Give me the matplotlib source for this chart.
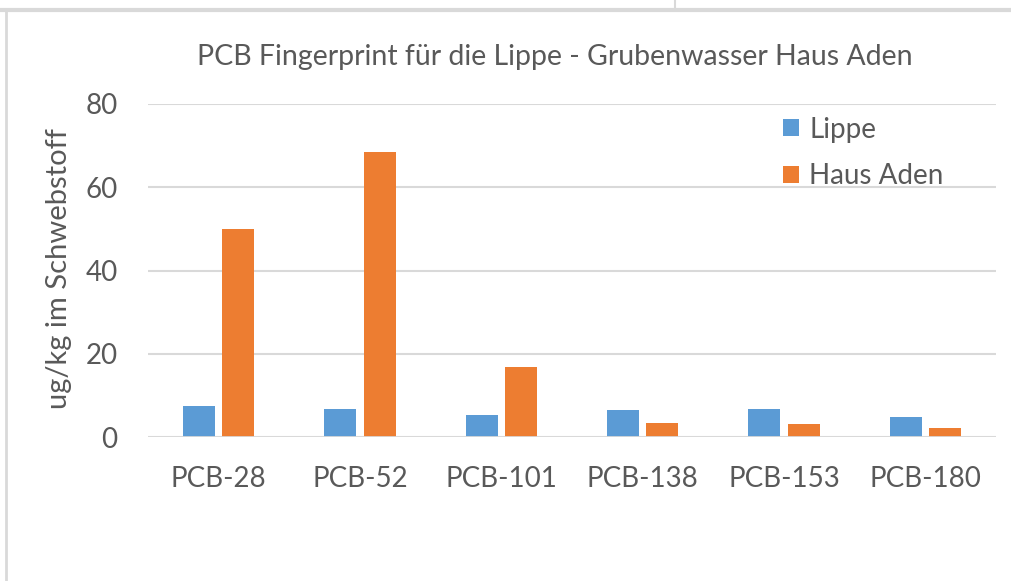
import numpy as np
import matplotlib.pyplot as plt
from matplotlib.lines import Line2D

categories = ["PCB-28", "PCB-52", "PCB-101", "PCB-138", "PCB-153", "PCB-180"]
lippe = [7.4, 6.7, 5.3, 6.5, 6.8, 4.7]
haus_aden = [50.0, 68.5, 16.8, 3.4, 3.1, 2.2]
yticks = [0, 20, 40, 60, 80]

blue = "#5B9BD5"
orange = "#ED7D31"
grid_c = "#D9D9D9"
text_c = "#595959"

plt.rcParams['font.family'] = ['Lato', 'DejaVu Sans']

fig = plt.figure(figsize=(10.11, 5.81), dpi=100)
ax = fig.add_axes([148 / 1011, 144 / 581, 848 / 1011, 333 / 581])

x = np.arange(len(categories))
w = 0.227
ax.bar(x - 0.14, lippe, w, color=blue, label="Lippe", zorder=3)
ax.bar(x + 0.14, haus_aden, w, color=orange, label="Haus Aden", zorder=3)

ax.set_xlim(-0.5, len(categories) - 0.5)
ax.set_ylim(0, 80)
ax.set_yticks(yticks)
ax.set_xticks(x)
ax.set_xticklabels(categories)
ax.tick_params(axis='both', length=0, labelsize=20, colors=text_c)
ax.tick_params(axis='x', pad=21)
ax.tick_params(axis='y', pad=22)
ax.yaxis.grid(True, color=grid_c, linewidth=1.5, zorder=0)
for s in ax.spines.values():
    s.set_visible(False)
ax.axhline(0, color=grid_c, linewidth=2, zorder=4)

ax.set_ylabel("ug/kg im Schwebstoff", fontsize=21, color=text_c)
ax.yaxis.set_label_coords(-0.0896, 0.505)
fig.text(555 / 1011, 1 - 57 / 581, "PCB Fingerprint für die Lippe - Grubenwasser Haus Aden",
         ha='center', va='center', fontsize=20.5, color=text_c)

leg = ax.legend(loc='upper left', bbox_to_anchor=(0.749, 0.962), frameon=False,
                fontsize=20, labelcolor=text_c, handlelength=0.58, handleheight=0.58,
                handletextpad=0.36, labelspacing=0.75, borderpad=0, borderaxespad=0)

# screenshot border lines
fig.add_artist(Line2D([0, 1], [1 - 10 / 581, 1 - 10 / 581], color=grid_c, linewidth=3))
fig.add_artist(Line2D([6 / 1011, 6 / 1011], [0, 1 - 10 / 581], color=grid_c, linewidth=2))
fig.add_artist(Line2D([675 / 1011, 675 / 1011], [1 - 10 / 581, 1], color=grid_c, linewidth=1.5))

fig.savefig("out.png", dpi=100)
